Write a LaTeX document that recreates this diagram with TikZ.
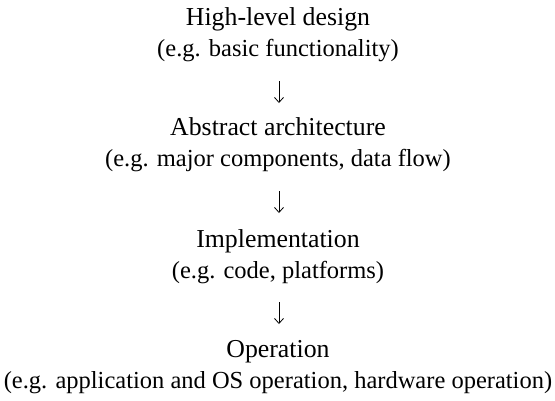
\documentclass[tikz,border=0pt]{standalone}
\usepackage{fontspec}
\setmainfont{Liberation Serif}
\usetikzlibrary{arrows.meta}
\begin{document}
\begin{tikzpicture}[x=1pt,y=1pt,
  ttl/.style={anchor=base,inner sep=0pt,font=\fontsize{25.8}{30}\selectfont},
  sub/.style={anchor=base,inner sep=0pt,font=\fontsize{24.5}{28}\selectfont},
  arr/.style={line width=0.8pt,-{Straight Barb[length=5pt,width=9pt,line width=0.8pt]}}]
\useasboundingbox (0,0) rectangle (555,-400);
\node[ttl] (t1) at (278,-25) {High-level design};
\node[sub] (s1) at (278,-56) {(e.g. basic functionality)};
\node[ttl] (t2) at (278,-135) {Abstract architecture};
\node[sub] (s2) at (278,-166) {(e.g. major components, data flow)};
\node[ttl] (t3) at (278,-247) {Implementation};
\node[sub] (s3) at (278,-278) {(e.g. code, platforms)};
\node[ttl] (t4) at (278,-357) {Operation};
\node[sub] (s4) at (278,-388) {(e.g. application and OS operation, hardware operation)};
\coordinate (a1s) at (279,-81); \coordinate (a1e) at (279,-103);
\coordinate (a2s) at (279,-191); \coordinate (a2e) at (279,-213);
\coordinate (a3s) at (279,-302); \coordinate (a3e) at (279,-324);
\draw[arr] (a1s) -- (a1e);
\draw[arr] (a2s) -- (a2e);
\draw[arr] (a3s) -- (a3e);
\end{tikzpicture}
\end{document}
